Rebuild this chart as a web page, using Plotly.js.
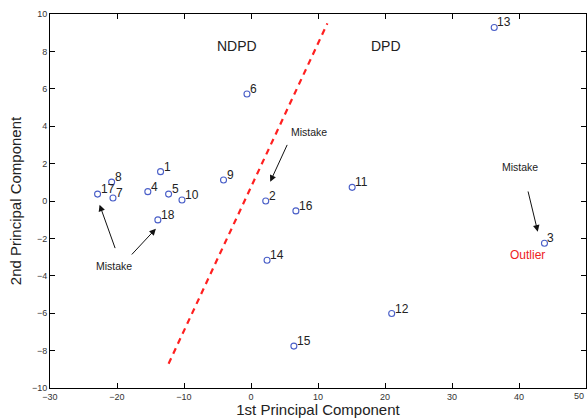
<!DOCTYPE html>
<html>
<head>
<meta charset="utf-8">
<script src="https://cdn.plot.ly/plotly-3.0.1.min.js"></script>
<style>html,body{margin:0;padding:0;background:#fff;}#chart{width:587px;height:418px;}</style>
</head>
<body>
<div id="chart"></div>
<script>
// Sample labels and their principal component scores
var labels = ["1","2","3","4","5","6","7","8","9","10","11","12","13","14","15","16","17","18"];
var pc1 = [-13.5, 2.2, 43.8, -15.4, -12.3, -0.6, -20.6, -20.8, -4.1, -10.3, 15.1, 21.0, 36.3, 2.4, 6.4, 6.7, -22.9, -13.9];
var pc2 = [1.57, 0.0, -2.26, 0.5, 0.37, 5.72, 0.16, 1.01, 1.12, 0.05, 0.73, -6.02, 9.28, -3.17, -7.76, -0.53, 0.37, -1.01];

// Dividing line between NDPD and DPD regions
var divX = [-12.3, 11.4];
var divY = [-8.7, 9.5];

// Region labels
var regionText = ["NDPD", "DPD"];
var regionX = [-2.1, 20.2];
var regionY = [8.3, 8.3];

// "Mistake" annotations: text position and arrows (tail -> head)
var mistakeTextX = [8.7, -20.4, 40.1];
var mistakeTextY = [3.69, -3.47, 1.83];
var arrowTailX = [5.5, -20.2, -18.0, 41.3];
var arrowTailY = [3.08, -2.6, -2.94, 0.59];
var arrowHeadX = [2.87, -22.6, -14.2, 42.8];
var arrowHeadY = [1.03, -0.2, -1.48, -1.64];

// Outlier label
var outlierX = 41.3, outlierY = -2.88;

var FONT = "Liberation Sans, Arial, sans-serif";

var traces = [
  {
    x: divX, y: divY, mode: "lines", type: "scatter",
    line: {color: "#ff2020", width: 2.2, dash: "6px,5px"},
    hoverinfo: "skip", showlegend: false
  },
  {
    x: pc1, y: pc2, mode: "markers", type: "scatter",
    marker: {symbol: "circle-open", size: 6, color: "#4a5fc8", line: {width: 1.1, color: "#4a5fc8"}},
    showlegend: false
  }
];

var annotations = [];
for (var p = 0; p < labels.length; p++) {
  annotations.push({x: pc1[p], y: pc2[p], text: labels[p], showarrow: false,
    xanchor: "left", yanchor: "middle", xshift: 1, yshift: 5,
    font: {family: FONT, size: 12, color: "#222"}});
}
for (var i = 0; i < regionText.length; i++) {
  annotations.push({x: regionX[i], y: regionY[i], text: regionText[i], showarrow: false,
    font: {family: FONT, size: 14, color: "#222"}});
}
for (var j = 0; j < mistakeTextX.length; j++) {
  annotations.push({x: mistakeTextX[j], y: mistakeTextY[j], text: "Mistake", showarrow: false,
    font: {family: FONT, size: 10.5, color: "#222"}});
}
for (var k = 0; k < arrowTailX.length; k++) {
  annotations.push({x: arrowHeadX[k], y: arrowHeadY[k], ax: arrowTailX[k], ay: arrowTailY[k],
    axref: "x", ayref: "y", xref: "x", yref: "y", text: "", showarrow: true,
    arrowhead: 2, arrowsize: 1.3, arrowwidth: 1, arrowcolor: "#111", standoff: 0, startstandoff: 0});
}
annotations.push({x: outlierX, y: outlierY, text: "Outlier", showarrow: false,
  font: {family: FONT, size: 12, color: "#ee2222"}});
// last x tick label, kept inside the right edge
annotations.push({x: 50, xref: "x", y: 0, yref: "paper", yanchor: "top", xanchor: "right", yshift: -1,
  text: "50", showarrow: false, font: {family: FONT, size: 9, color: "#333"}});

var axisCommon = {
  showline: true, linecolor: "#000", linewidth: 1, mirror: "ticks",
  ticks: "inside", ticklen: 5, tickwidth: 1, tickcolor: "#000",
  showgrid: false, zeroline: false,
  tickfont: {family: FONT, size: 9, color: "#333"}
};

var layout = {
  width: 587, height: 418,
  margin: {l: 50, r: 1, t: 14, b: 30},
  paper_bgcolor: "#fff", plot_bgcolor: "#fff",
  showlegend: false,
  xaxis: Object.assign({}, axisCommon, {
    range: [-30, 50], dtick: 10, tick0: 0, tickformat: "d",
    title: {text: "1st Principal Component", standoff: 2,
      font: {family: FONT, size: 15, color: "#222"}}
  }),
  yaxis: Object.assign({}, axisCommon, {
    range: [-10, 10], dtick: 2, tick0: 0,
    title: {text: "2nd Principal Component", standoff: 6,
      font: {family: FONT, size: 15, color: "#222"}}
  }),
  annotations: annotations
};

Plotly.newPlot("chart", traces, layout, {displayModeBar: false, staticPlot: true});
</script>
</body>
</html>
